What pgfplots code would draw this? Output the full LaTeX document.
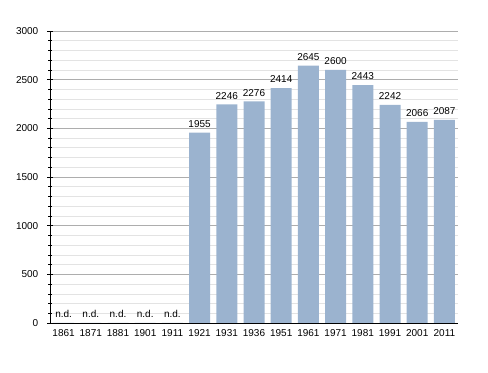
\documentclass[border=0pt]{standalone}
\usepackage{fontspec}
\setmainfont{Liberation Sans}
\usepackage{pgfplots}
\pgfplotsset{compat=1.18}
\definecolor{barblue}{HTML}{9BB3CF}
\definecolor{majgrid}{HTML}{ADADAD}
\definecolor{mingrid}{HTML}{E3E3E3}
\begin{document}
\fontsize{10bp}{12bp}\selectfont
\begin{tikzpicture}
\path (0,0) rectangle (488bp,373bp);
\begin{axis}[
  at={(50bp,50bp)}, anchor=south west,
  scale only axis, width=408bp, height=292bp,
  axis lines=left, axis line style={-, black, line width=0.8pt},
  ymin=0, ymax=3000, xmin=-0.5, xmax=14.5,
  ytick={0,500,...,3000}, minor ytick={0,100,...,3000},
  ymajorgrids, yminorgrids,
  major grid style={majgrid, line width=0.6pt},
  minor grid style={mingrid, line width=0.6pt},
  tick style={black, line width=0.6pt},
  major tick length=5bp, minor tick length=3bp,
  y tick label style={inner sep=0pt, xshift=-9bp},
  ytick pos=left,
  xtick={0,...,14}, xtick style={draw=none},
  xticklabels={1861,1871,1881,1901,1911,1921,1931,1936,1951,1961,1971,1981,1991,2001,2011},
  x tick label style={inner sep=0pt, yshift=-1bp},
  /pgf/number format/assume math mode=true,
  /pgf/number format/1000 sep={},
  ticklabel style={font=\fontsize{10bp}{12bp}\selectfont},
  ybar, bar width=21bp,
  nodes near coords, point meta=explicit symbolic,
  every node near coord/.append style={font=\fontsize{10bp}{12bp}\selectfont, inner sep=0pt, yshift=5bp},
  clip=false,
]
\addplot[fill=barblue, draw=none] coordinates {
 (0,0)[n.d.] (1,0)[n.d.] (2,0)[n.d.] (3,0)[n.d.] (4,0)[n.d.]
 (5,1955)[1955] (6,2246)[2246] (7,2276)[2276] (8,2414)[2414] (9,2645)[2645]
 (10,2600)[2600] (11,2443)[2443] (12,2242)[2242] (13,2066)[2066] (14,2087)[2087]
};
\end{axis}
\end{tikzpicture}
\end{document}
